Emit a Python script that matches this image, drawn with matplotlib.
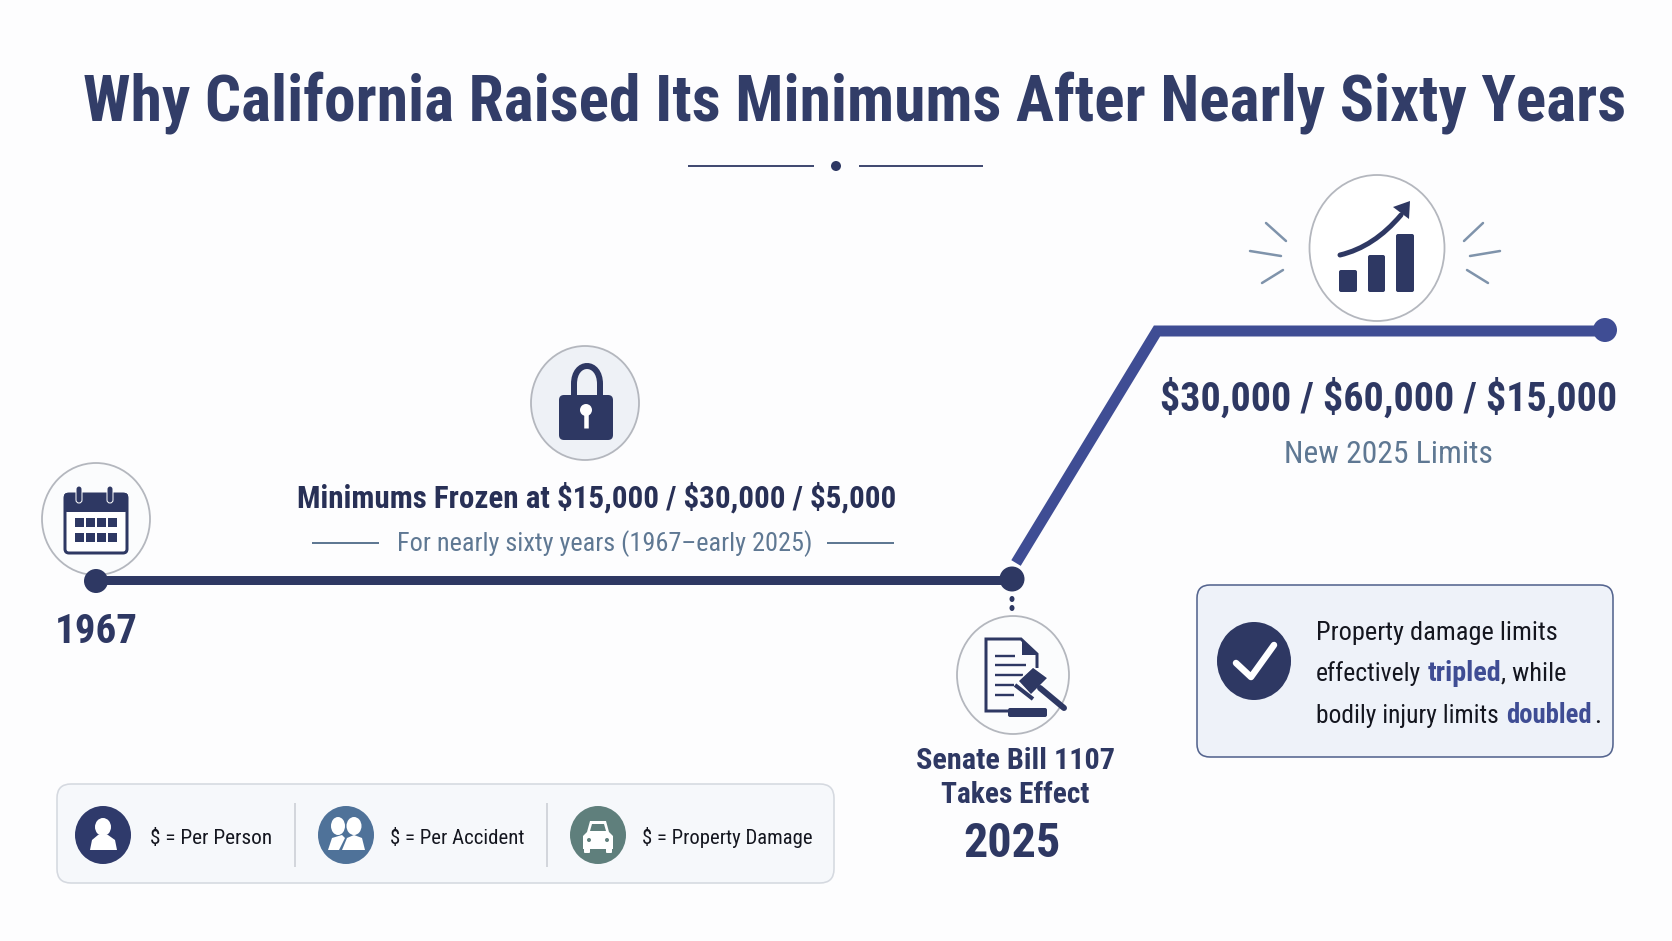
import matplotlib
matplotlib.use('Agg')
import matplotlib.pyplot as plt
from matplotlib import font_manager
from matplotlib.patches import Ellipse, FancyBboxPatch, Polygon, Rectangle, PathPatch
from matplotlib.path import Path

# --- data ---
title = "Why California Raised Its Minimums After Nearly Sixty Years"
old_limits = ["$15,000", "$30,000", "$5,000"]
new_limits = ["$30,000", "$60,000", "$15,000"]
start_year = "1967"
end_year = "2025"
bill_lines = ["Senate Bill 1107", "Takes Effect"]
frozen_note = "For nearly sixty years (1967\u2013early 2025)"
new_note = "New 2025 Limits"
legend_labels = ["$ = Per Person", "$ = Per Accident", "$ = Property Damage"]
growth_bars = [22, 37, 58]

NAVY = "#2e3863"
BLUE = "#3f4d94"
SLATE = "#5f7893"
RING = "#b4b7be"
INK = "#14161f"
WHITE = "#ffffff"
W, H = 1672, 941

# condensed face if there is one, plain Roboto otherwise
installed = {f.name for f in font_manager.fontManager.ttflist}
FONT = next((n for n in ("Roboto Condensed", "Sofia Sans Condensed", "Archivo Narrow", "Liberation Sans Narrow", "Roboto")
             if n in installed), "DejaVu Sans")

fig = plt.figure(figsize=(W / 100, H / 100), dpi=100, facecolor="#fdfdfe")
ax = fig.add_axes([0, 0, 1, 1])
ax.set_xlim(0, W)
ax.set_ylim(H, 0)
ax.axis("off")
renderer = fig.canvas.get_renderer()


def px(v):
    return v * 0.72


def fit_text(s, x0, x1, y, color=NAVY, weight="normal", va="center"):
    # scale the font until the text spans x0..x1 pixels
    t = ax.text(x0, y, s, color=color, fontweight=weight, family=FONT, fontsize=20, va=va, ha="left", zorder=6)
    w = t.get_window_extent(renderer).width
    t.set_fontsize(20 * (x1 - x0) / w)
    return t


def line(xs, ys, color=NAVY, width=3, z=3, cap="round"):
    ax.plot(xs, ys, color=color, lw=px(width), solid_capstyle=cap, solid_joinstyle="miter", zorder=z)


def ring(x, y, rx, ry, fill="#ffffff", edge=RING, width=1.8, z=2):
    ax.add_patch(Ellipse((x, y), rx * 2, ry * 2, fc=fill, ec=edge, lw=px(width), zorder=z))


def disc(x, y, rx, ry=None, color=NAVY, z=4):
    ax.add_patch(Ellipse((x, y), rx * 2, (ry or rx) * 2, fc=color, ec="none", zorder=z))


def rbox(x0, y0, x1, y1, r, fc, ec="none", lw=0, z=4):
    ax.add_patch(FancyBboxPatch((x0, y0), x1 - x0, y1 - y0, boxstyle=f"round,pad=0,rounding_size={r}",
                                fc=fc, ec=ec, lw=px(lw), zorder=z))


# title and divider
fit_text(title, 83, 1621, 103, weight="bold", color="#323d68")
line([688, 814], [166, 166], width=1.8, cap="butt")
line([859, 983], [166, 166], width=1.8, cap="butt")
disc(836, 166, 5)

# timeline
line([96, 1012], [580, 580], width=9, cap="butt")
line([1016, 1157, 1605], [563, 331, 331], color=BLUE, width=11, cap="butt")
disc(96, 581, 12)
disc(1012, 579, 12.5)
disc(1605, 330, 12, color=BLUE)
disc(1012, 599, 2.5, 3)
disc(1012, 608, 2.5, 3)

# calendar icon
ring(96, 519, 54, 56, fill="#fbfcfd")
rbox(65, 494, 127, 553, 4, WHITE, NAVY, 3)
rbox(64, 493, 128, 512, 3, NAVY)
rbox(76, 486, 82, 503, 3, NAVY, WHITE, 1)
rbox(107, 486, 113, 503, 3, NAVY, WHITE, 1)
for row_y in (518, 533):
    for x in (75, 86, 97, 108):
        ax.add_patch(Rectangle((x, row_y), 9, 9, fc=NAVY, ec="none", zorder=5))

# lock icon
ring(585, 403, 54, 57, fill="#eef1f6")
arch = Path([(574, 384), (574, 360), (600, 360), (600, 384)], [Path.MOVETO, Path.CURVE4, Path.CURVE4, Path.CURVE4])
ax.add_patch(PathPatch(arch, fc="none", ec=NAVY, lw=px(6), zorder=4))
line([574, 574], [383, 396], width=6, cap="butt")
line([600, 600], [383, 396], width=6, cap="butt")
rbox(559, 395, 613, 440, 5, NAVY)
disc(586, 410, 6, color=WHITE, z=5)
line([586, 586], [412, 428], color=WHITE, width=4.5, z=5, cap="butt")

# frozen text
fit_text("Minimums Frozen at " + " / ".join(old_limits), 297, 895, 498, color="#283056", weight=600)
fit_text(frozen_note, 397, 811, 544, color=SLATE)
line([312, 379], [543, 543], color=SLATE, width=2, cap="butt")
line([827, 894], [543, 543], color=SLATE, width=2, cap="butt")
fit_text(start_year, 55, 138, 632, weight="bold")

# growth icon
for (x0, y0, x1, y1) in [(1266, 223, 1286, 241), (1250, 251, 1281, 256), (1262, 283, 1283, 270),
                         (1483, 223, 1464, 241), (1500, 251, 1470, 256), (1488, 283, 1467, 270)]:
    line([x0, x1], [y0, y1], color="#7f93ab", width=2.5)
ring(1377, 248, 67.5, 73)
for x0, x1, h in zip((1339, 1368, 1396), (1357, 1385, 1414), growth_bars):
    rbox(x0, 292 - h, x1, 292, 2, NAVY)
curve = Path([(1340, 255), (1374, 247), (1401, 215)], [Path.MOVETO, Path.CURVE3, Path.CURVE3])
ax.add_patch(PathPatch(curve, fc="none", ec=NAVY, lw=px(5), capstyle="round", zorder=4))
ax.add_patch(Polygon([(1393, 207), (1410, 201), (1409, 219)], fc=NAVY, ec="none", zorder=4))

# new limits
fit_text(" / ".join(new_limits), 1160, 1617, 398, weight=600)
fit_text(new_note, 1284, 1493, 454, color=SLATE)

# bill icon
ring(1013, 675, 56, 59, fill="#fbfcfd")
line([1037, 1037, 1021, 986, 986, 1008], [668, 654, 639, 639, 711, 711], width=3, z=4, cap="butt")
ax.add_patch(Polygon([(1022, 639), (1037, 655), (1022, 655)], fc=NAVY, ec="none", zorder=4))
for y, x1 in zip((656, 665, 675, 685, 695), (1015, 1026, 1023, 1014, 1014)):
    line([995, x1], [y, y], width=2.4, z=4, cap="butt")
ax.add_patch(Polygon([(1033, 667), (1048, 678), (1031, 695), (1018, 681)], fc=NAVY, ec=WHITE, lw=1, zorder=5))
line([1015, 1033], [685, 699], width=4, z=5, cap="butt")
line([1040, 1064], [688, 708], width=6, z=5)
rbox(1008, 708, 1047, 717, 2, NAVY)

# bill text
fit_text(bill_lines[0], 916, 1114, 761, weight=600)
fit_text(bill_lines[1], 941, 1089, 795, weight=600)
fit_text(end_year, 963, 1061, 844, weight="bold")

# callout, runs on shared baselines, each fitted to its span
rbox(1197, 585, 1613, 757, 13, "#eef2f9", "#55658f", 1.6, z=2)
disc(1254, 661, 37, 39)
ax.plot([1236, 1251, 1274], [663, 677, 645], color=WHITE, lw=px(6.5), solid_capstyle="round",
        solid_joinstyle="round", zorder=5)
size = fit_text("Property damage limits", 1316, 1557, 640, color=INK, va="baseline").get_fontsize()
fit_text("effectively", 1316, 1421, 681, color=INK, va="baseline")
fit_text("bodily injury limits", 1316, 1498, 723, color=INK, va="baseline")
for s, x, y in [(", while", 1501, 681), (".", 1594, 723)]:
    ax.text(x, y, s, color=INK, family=FONT, fontsize=size, va="baseline", ha="left", zorder=6)
fit_text("tripled", 1428, 1501, 681, color=BLUE, weight="bold", va="baseline")
fit_text("doubled", 1506, 1592, 723, color=BLUE, weight="bold", va="baseline")

# legend
rbox(57, 784, 834, 883, 14, "#f6f8fb", "#d5d9e0", 1.6, z=2)
line([295, 295], [803, 867], color="#c8ccd3", width=1.5, z=3, cap="butt")
line([547, 547], [803, 867], color="#c8ccd3", width=1.5, z=3, cap="butt")
disc(103, 835, 28, 29, color="#2f3a6b")
disc(346, 835, 28, 29, color="#4f7299")
disc(598, 835, 28, 29, color="#5f7f7c")
# person
disc(103, 827, 8, 9, color=WHITE, z=5)
ax.add_patch(Polygon([(90, 850), (92, 840), (98, 835), (108, 835), (115, 840), (117, 850)], fc=WHITE, ec="none", zorder=5))
# two people
disc(338, 826, 7, 9, color=WHITE, z=5)
disc(354, 826, 7.5, 9, color=WHITE, z=5)
ax.add_patch(Polygon([(328, 850), (332, 838), (342, 835), (345, 838), (339, 850)], fc=WHITE, ec="none", zorder=5))
ax.add_patch(Polygon([(342, 850), (347, 838), (354, 835), (362, 838), (365, 850)], fc=WHITE, ec="none", zorder=5))
# car
ax.add_patch(Polygon([(587, 832), (590, 821), (606, 821), (609, 832), (613, 836), (613, 849), (583, 849), (583, 836)],
                     fc=WHITE, ec="none", zorder=5))
ax.add_patch(Polygon([(590, 831), (592, 824), (604, 824), (606, 831)], fc="#5f7f7c", ec="none", zorder=6))
rbox(584, 848, 590, 853, 1, WHITE, z=5)
rbox(606, 848, 612, 853, 1, WHITE, z=5)
disc(589, 840, 2, color="#5f7f7c", z=6)
disc(607, 840, 2, color="#5f7f7c", z=6)
for label, x0, x1 in zip(legend_labels, (150, 390, 642), (272, 524, 812)):
    fit_text(label, x0, x1, 838, color=INK)

fig.savefig("out.png", dpi=100, facecolor=fig.get_facecolor())
